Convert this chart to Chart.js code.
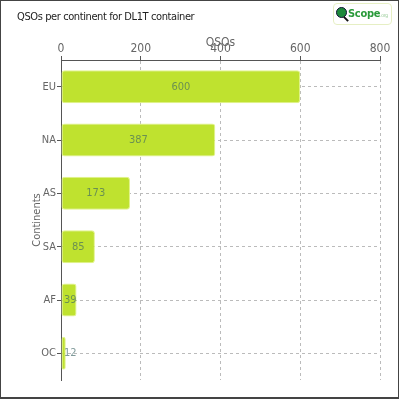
<!DOCTYPE html>
<html lang="en">

<head>
    <meta charset="UTF-8">
    <title>QSOs per continent</title>
    <script src="https://cdn.jsdelivr.net/npm/chart.js"></script>
    <style>
        body {
            margin: 0;
            background: #fff;
            font-family: "DejaVu Sans Condensed", "DejaVu Sans", sans-serif;
        }

        .frame {
            position: absolute;
            left: 0;
            top: 0;
            width: 399px;
            height: 399px;
            box-sizing: border-box;
            border: 1px solid #444;
            border-bottom-width: 2px;
        }

        .title {
            position: absolute;
            left: 17px;
            top: 10px;
            font-size: 11px;
            letter-spacing: -0.4px;
            color: #222;
        }

        .logo {
            position: absolute;
            left: 333px;
            top: 3px;
            width: 57px;
            height: 20px;
            border: 1px solid #e6efc4;
            border-radius: 4px;
        }

        .logo .globe {
            position: absolute;
            left: 2px;
            top: 3px;
            width: 9px;
            height: 9px;
            border-radius: 50%;
            background: #1d8a3a;
            border: 1px solid #113;
        }

        .logo .handle {
            position: absolute;
            left: 9px;
            top: 14px;
            width: 6px;
            height: 2px;
            background: #111;
            transform: rotate(45deg);
        }

        .logo .name {
            position: absolute;
            left: 14px;
            top: 3px;
            font-size: 11px;
            font-weight: bold;
            letter-spacing: -0.3px;
            color: #2a9a3a;
        }

        .logo .org {
            font-size: 5px;
            font-weight: normal;
            color: #9c9;
        }

        canvas {
            position: absolute;
            left: 0;
            top: 0;
        }
    </style>
</head>

<body>
    <canvas id="chart" width="400" height="400"></canvas>
    <div class="frame"></div>
    <div class="title">QSOs per continent for DL1T container</div>
    <div class="logo"><div class="globe"></div><div class="handle"></div><div class="name">Scope<span class="org">.org</span></div></div>

    <script>
        const continents = ['EU', 'NA', 'AS', 'SA', 'AF', 'OC'];
        const qsos = [600, 387, 173, 85, 39, 12];
        const xTicks = [0, 200, 400, 600, 800];

        const fontName = '"DejaVu Sans Condensed", "DejaVu Sans", sans-serif';

        // value labels in the middle of each bar
        const barLabels = {
            id: 'barLabels',
            afterDatasetsDraw(chart) {
                const ctx = chart.ctx;
                const meta = chart.getDatasetMeta(0);
                ctx.save();
                ctx.font = '11px ' + fontName;
                ctx.fillStyle = 'rgba(60, 100, 100, 0.65)';
                ctx.textAlign = 'center';
                ctx.textBaseline = 'middle';
                meta.data.forEach(function (bar, i) {
                    const txt = String(qsos[i]);
                    const w = ctx.measureText(txt).width;
                    let x = (bar.base + bar.x) / 2;
                    x = Math.max(x, chart.chartArea.left + 3 + w / 2);
                    ctx.fillText(txt, x, bar.y);
                });
                ctx.restore();
            }
        };

        new Chart(document.getElementById('chart').getContext('2d'), {
            type: 'bar',
            data: {
                labels: continents,
                datasets: [{
                    label: 'QSOs',
                    data: qsos,
                    backgroundColor: '#bfe22f',
                    borderColor: '#e2f38a',
                    borderWidth: 1,
                    borderRadius: 3,
                    borderSkipped: false,
                    categoryPercentage: 1,
                    barPercentage: 0.62
                }]
            },
            options: {
                indexAxis: 'y',
                responsive: false,
                animation: false,
                layout: { padding: { left: 28, right: 20, top: 26, bottom: 20 } },
                plugins: {
                    legend: { display: false },
                    tooltip: { enabled: false }
                },
                scales: {
                    x: {
                        position: 'top',
                        min: 0,
                        max: 800,
                        afterBuildTicks: function (scale) {
                            scale.ticks = xTicks.map(v => ({ value: v }));
                        },
                        afterFit: function (scale) { scale.height = 34; },
                        title: {
                            display: true,
                            text: 'QSOs',
                            color: '#666',
                            font: { family: fontName, size: 12 },
                            padding: { top: 10, bottom: -6 }
                        },
                        ticks: {
                            color: '#666',
                            padding: 0,
                            font: { family: fontName, size: 12 }
                        },
                        grid: {
                            color: '#bbb',
                            tickLength: 4,
                            tickColor: '#555'
                        },
                        border: { color: '#555', width: 1, dash: [3, 3] }
                    },
                    y: {
                        afterFit: function (scale) { scale.width = 33; },
                        title: {
                            display: true,
                            text: 'Continents',
                            color: '#666',
                            font: { family: fontName, size: 11 },
                            padding: { top: 3, bottom: 0 }
                        },
                        ticks: {
                            color: '#666',
                            padding: 1,
                            font: { family: fontName, size: 11 }
                        },
                        grid: {
                            offset: false,
                            color: '#bbb',
                            tickLength: 4,
                            tickColor: '#555'
                        },
                        border: { color: '#555', width: 1, dash: [3, 3] }
                    }
                }
            },
            plugins: [barLabels]
        });
    </script>
</body>

</html>
